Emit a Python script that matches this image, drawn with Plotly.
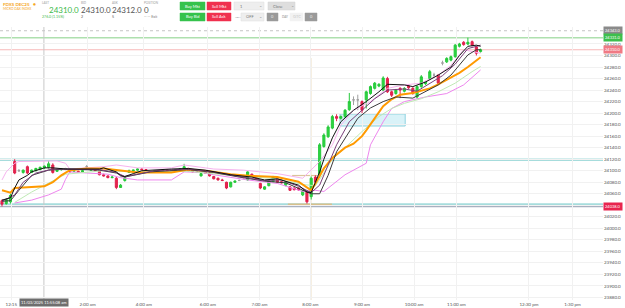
import plotly.graph_objects as go

# ---------------- data ----------------
tick_pos = [2.2, 20.2, 33.5, 48.6, 60.8, 72.8, 85.0, 97.3, 107.3, 124.4, 134.7]
tick_text = ["12:15", "2:00 am", "4:00 am", "6:00 am", "7:00 am", "8:00 am",
             "9:00 am", "10:00 am", "11:00 am", "12:30 pm", "1:30 pm"]

opens = [24048, 24043, 24046, 24116, 24100, 24097, 24107, 24097, 24100, 24102,
         24105, 24106, 24110, 24099, 24102, 24103, 24102, 24099, 24099, 24098,
         24107, 24101, 24101, 24099, 24093, 24091, 24088, 24087, 24071, 24083,
         24097, 24100, 24101, 24103, 24102, 24098, 24098, 24100, 24100, 24101,
         24099, 24099, 24102, 24104, 24104, 24101, 24098, 24091, 24098, 24096,
         24090, 24087, 24084, 24080, 24072, 24080, 24083, 24091, 24084, 24094,
         24089, 24078, 24068, 24074, 24081, 24086, 24081, 24075, 24072, 24070,
         24070, 24058, 24063, 24055, 24089, 24093, 24142, 24159, 24174, 24194,
         24191, 24194, 24206, 24223, 24223, 24220, 24223, 24234, 24243, 24247,
         24240, 24260, 24237, 24234, 24243, 24238, 24247, 24243, 24228, 24246,
         24251, 24260, 24266, 24266, 24287, 24289, 24292, 24298, 24316, 24323,
         24320, 24324, 24315, 24307]
highs = [24050, 24052, 24060, 24120, 24103, 24102, 24109, 24102, 24105, 24107,
         24109, 24117, 24113, 24103, 24104, 24105, 24103, 24102, 24100, 24101,
         24110, 24104, 24102, 24100, 24095, 24092, 24091, 24089, 24077, 24089,
         24102, 24102, 24104, 24104, 24103, 24099, 24100, 24101, 24102, 24102,
         24101, 24103, 24104, 24112, 24105, 24102, 24099, 24096, 24099, 24097,
         24091, 24088, 24086, 24081, 24081, 24083, 24085, 24092, 24099, 24095,
         24090, 24079, 24073, 24083, 24091, 24087, 24082, 24081, 24073, 24071,
         24071, 24066, 24066, 24090, 24092, 24148, 24165, 24179, 24197, 24198,
         24196, 24207, 24235, 24229, 24232, 24222, 24239, 24248, 24254, 24252,
         24264, 24263, 24239, 24242, 24245, 24245, 24249, 24245, 24248, 24266,
         24256, 24275, 24270, 24268, 24291, 24297, 24300, 24320, 24322, 24325,
         24331, 24326, 24317, 24312]
lows = [24038, 24041, 24043, 24094, 24098, 24095, 24094, 24096, 24099, 24101,
        24103, 24104, 24095, 24098, 24100, 24101, 24097, 24098, 24096, 24097,
        24105, 24100, 24099, 24092, 24090, 24087, 24087, 24068, 24070, 24081,
        24096, 24099, 24100, 24101, 24100, 24096, 24097, 24099, 24099, 24099,
        24098, 24098, 24101, 24103, 24099, 24097, 24097, 24090, 24095, 24090,
        24085, 24083, 24082, 24068, 24071, 24079, 24082, 24087, 24083, 24090,
        24085, 24068, 24067, 24073, 24080, 24079, 24078, 24073, 24065, 24066,
        24065, 24056, 24043, 24050, 24076, 24088, 24140, 24157, 24172, 24186,
        24189, 24192, 24204, 24214, 24205, 24200, 24208, 24232, 24241, 24245,
        24238, 24235, 24228, 24232, 24226, 24236, 24242, 24232, 24225, 24244,
        24249, 24258, 24262, 24249, 24283, 24287, 24290, 24296, 24314, 24317,
        24318, 24316, 24300, 24305]
closes = [24042, 24050, 24057, 24096, 24100, 24101, 24096, 24101, 24104, 24106,
          24108, 24112, 24097, 24102, 24103, 24103, 24098, 24100, 24097, 24100,
          24107, 24103, 24100, 24093, 24091, 24088, 24089, 24071, 24075, 24088,
          24100, 24101, 24103, 24102, 24101, 24097, 24099, 24100, 24101, 24100,
          24100, 24102, 24103, 24107, 24100, 24098, 24098, 24095, 24096, 24091,
          24086, 24084, 24083, 24070, 24080, 24082, 24083, 24088, 24098, 24091,
          24086, 24070, 24072, 24082, 24090, 24080, 24079, 24080, 24066, 24067,
          24067, 24065, 24046, 24087, 24080, 24145, 24162, 24176, 24194, 24191,
          24194, 24205, 24220, 24223, 24223, 24205, 24237, 24246, 24252, 24250,
          24261, 24237, 24231, 24240, 24240, 24243, 24244, 24234, 24246, 24263,
          24254, 24272, 24266, 24252, 24287, 24295, 24298, 24318, 24320, 24319,
          24323, 24318, 24304, 24310]

ema_fast_x = [0, 2, 3, 4, 6, 7, 10, 12, 15, 23, 24, 27, 28, 29, 31, 33, 40, 44, 48, 50, 54, 59, 62, 65, 70, 72, 73, 74, 75, 76, 77, 78, 80, 83, 86, 89, 91, 95, 97, 100, 103, 106, 108, 110, 112, 113]
ema_fast_y = [24049, 24053, 24070, 24084, 24092, 24098, 24105, 24105, 24103, 24103, 24105, 24098, 24091, 24090, 24095, 24100, 24103, 24104, 24101, 24098, 24093, 24089, 24084, 24086, 24075, 24063, 24062, 24080, 24098, 24120, 24140, 24157, 24185, 24205, 24220, 24237, 24250, 24249, 24246, 24254, 24266, 24280, 24300, 24316, 24318, 24316]

ema_mid_x = [0, 3, 5, 8, 12, 15, 23, 27, 29, 32, 36, 44, 50, 56, 62, 66, 70, 73, 75, 77, 79, 82, 85, 88, 91, 95, 98, 101, 104, 107, 110, 113]
ema_mid_y = [24047, 24058, 24080, 24096, 24103, 24103, 24102, 24097, 24090, 24094, 24100, 24103, 24098, 24090, 24083, 24084, 24073, 24062, 24075, 24110, 24145, 24185, 24205, 24225, 24240, 24242, 24238, 24252, 24265, 24285, 24312, 24318]

ema_slow_x = [0, 2, 4, 7, 11, 15, 23, 27, 29, 31, 35, 44, 50, 56, 62, 67, 70, 73, 75, 77, 79, 82, 84, 87, 90, 93, 97, 103, 106, 110, 112, 113]
ema_slow_y = [24047, 24048, 24066, 24092, 24101, 24103, 24101, 24096, 24089, 24092, 24098, 24102, 24097, 24089, 24082, 24079, 24070, 24060, 24060, 24092, 24133, 24168, 24191, 24209, 24220, 24228, 24226, 24249, 24266, 24301, 24310, 24310]

orange_x = [0, 2, 3, 10, 12, 14, 16, 20, 24, 29, 32, 40, 44, 49, 54, 59, 65, 70, 72, 73, 74, 75, 76, 78, 81, 83, 85, 86, 88, 90, 92, 94, 97, 101, 103, 106, 108, 110, 113]
orange_y = [24066, 24062, 24070, 24073, 24080, 24092, 24101, 24104, 24104, 24099, 24097, 24097, 24102, 24099, 24094, 24091, 24089, 24081, 24072, 24066, 24078, 24090, 24104, 24122, 24140, 24147, 24160, 24170, 24190, 24212, 24224, 24232, 24235, 24243, 24250, 24262, 24270, 24280, 24297]

green_x = [3, 7, 15, 24, 33, 44, 54, 65, 71, 74, 76, 78, 81, 85, 89, 92, 95, 99, 103, 107, 111, 113]
green_y = [24045, 24063, 24094, 24100, 24098, 24099, 24092, 24086, 24076, 24074, 24096, 24120, 24140, 24168, 24194, 24208, 24217, 24225, 24237, 24252, 24272, 24281]

band_up_x = [0, 1, 3, 4, 13, 15, 16, 20, 24, 27, 32, 40, 43, 48, 50, 57, 65, 71, 73, 75, 78, 80, 83, 87, 91, 95, 99, 103, 106, 109, 113]
band_up_y = [24084, 24098, 24113, 24116, 24117, 24113, 24103, 24105, 24107, 24110, 24105, 24105, 24110, 24105, 24103, 24101, 24095, 24087, 24101, 24116, 24145, 24179, 24205, 24220, 24243, 24249, 24252, 24266, 24283, 24310, 24304]

band_lo_x = [3, 7, 11, 14, 15, 16, 20, 25, 28, 32, 40, 43, 47, 50, 58, 65, 71, 74, 76, 81, 86, 87, 90, 92, 95, 100, 105, 109, 113]
band_lo_y = [24044, 24049, 24058, 24068, 24085, 24098, 24096, 24094, 24088, 24084, 24084, 24098, 24097, 24093, 24084, 24078, 24064, 24066, 24064, 24093, 24113, 24145, 24185, 24208, 24220, 24228, 24234, 24249, 24275]

level_grey = 24343
level_green = 24331
level_last = 24310
level_teal_hi = 24119
level_teal_lo = 24042
level_slate = 24038
zone_lo, zone_hi = 24177.6, 24198.5
zone_x0, zone_x1 = 79.8, 95.2
marker_bar = 72.9
cross_bar = 9.9
tan_a = (24091.7, 68.5, 74.6)
tan_b = (24042, 67.5, 77.9)

y_ticks = list(range(23880, 24321, 20))

# ---------------- figure ----------------
W, H = 625, 308
ML, MR, MT, MB = 0, 22, 27, 8
PW, PH = W - ML - MR, H - MT - MB
FONT = "Lato"


def px(x):
    return (x - ML) / PW


def py(y):
    return 1 - (y - MT) / PH


fig = go.Figure()

# indicator lines
fig.add_trace(go.Scatter(x=band_lo_x, y=band_lo_y, mode="lines",
                         line=dict(color="#ee86ee", width=1), hoverinfo="skip"))
fig.add_trace(go.Scatter(x=band_up_x, y=band_up_y, mode="lines",
                         line=dict(color="#f6b3ee", width=1), hoverinfo="skip"))
fig.add_trace(go.Scatter(x=green_x, y=green_y, mode="lines",
                         line=dict(color="#bfeab5", width=1), hoverinfo="skip"))
fig.add_trace(go.Scatter(x=orange_x, y=orange_y, mode="lines",
                         line=dict(color="#ff9a00", width=2), hoverinfo="skip"))
fig.add_trace(go.Scatter(x=ema_slow_x, y=ema_slow_y, mode="lines",
                         line=dict(color="#3a3a3a", width=1), hoverinfo="skip"))
fig.add_trace(go.Scatter(x=ema_mid_x, y=ema_mid_y, mode="lines",
                         line=dict(color="#7a3f7a", width=1), hoverinfo="skip"))
fig.add_trace(go.Scatter(x=ema_fast_x, y=ema_fast_y, mode="lines",
                         line=dict(color="#111111", width=1), hoverinfo="skip"))

# candles
idx = list(range(len(opens)))
reg = [i for i in idx if closes[i] != opens[i]]
doj = [i for i in idx if closes[i] == opens[i]]
fig.add_trace(go.Candlestick(
    x=reg, open=[opens[i] for i in reg], high=[highs[i] for i in reg],
    low=[lows[i] for i in reg], close=[closes[i] for i in reg],
    increasing=dict(line=dict(color="#25c93a", width=1), fillcolor="#2fd443"),
    decreasing=dict(line=dict(color="#e0204c", width=1), fillcolor="#e8254e"),
    hoverinfo="skip"))
fig.add_trace(go.Candlestick(
    x=doj, open=[opens[i] for i in doj], high=[highs[i] for i in doj],
    low=[lows[i] for i in doj], close=[closes[i] for i in doj],
    increasing=dict(line=dict(color="#a0a0a0", width=1), fillcolor="#a0a0a0"),
    decreasing=dict(line=dict(color="#a0a0a0", width=1), fillcolor="#a0a0a0"),
    hoverinfo="skip"))

shapes = []
shapes.append(dict(type="line", xref="paper", x0=0, x1=1, yref="y", y0=level_grey, y1=level_grey,
                   line=dict(color="#c4c4c4", width=1, dash="dot"), layer="below"))
shapes.append(dict(type="line", xref="paper", x0=0, x1=1, yref="y", y0=level_green, y1=level_green,
                   line=dict(color="#aee0ae", width=1.5), layer="below"))
shapes.append(dict(type="line", xref="paper", x0=0, x1=1, yref="y", y0=level_last, y1=level_last,
                   line=dict(color="#f7b9b9", width=1), layer="below"))
shapes.append(dict(type="line", xref="paper", x0=0, x1=1, yref="y", y0=level_teal_hi, y1=level_teal_hi,
                   line=dict(color="#a6dcdc", width=2.5), layer="below"))
shapes.append(dict(type="line", xref="paper", x0=0, x1=1, yref="y", y0=level_teal_lo, y1=level_teal_lo,
                   line=dict(color="#a6dcdc", width=2), layer="below"))
shapes.append(dict(type="line", xref="paper", x0=0, x1=1, yref="y", y0=level_slate, y1=level_slate,
                   line=dict(color="#a9b0c0", width=1.5), layer="below"))
shapes.append(dict(type="rect", xref="x", yref="y", x0=zone_x0, x1=zone_x1, y0=zone_lo, y1=zone_hi,
                   fillcolor="rgba(185,232,242,0.55)", line=dict(color="#8fd3df", width=1), layer="below"))
shapes.append(dict(type="line", xref="x", yref="paper", x0=marker_bar, x1=marker_bar, y0=0,
                   y1=py(58), line=dict(color="#dcc08a", width=1), layer="below"))
shapes.append(dict(type="line", xref="x", yref="y", x0=tan_a[1], x1=tan_a[2], y0=tan_a[0], y1=tan_a[0],
                   line=dict(color="#dcc59a", width=1.2), layer="below"))
shapes.append(dict(type="line", xref="x", yref="y", x0=tan_b[1], x1=tan_b[2], y0=tan_b[0], y1=tan_b[0],
                   line=dict(color="#d8c08c", width=1.5), layer="below"))
shapes.append(dict(type="line", xref="x", yref="paper", x0=cross_bar, x1=cross_bar, y0=0, y1=1,
                   line=dict(color="#c8c8c8", width=1), layer="below"))

ann = []
for val, bg in [(level_grey, "#8a8a8a"), (level_green, "#3cbf4c"), (level_last, "#f07a84"),
                (level_slate, "#e8254e")]:
    ann.append(dict(xref="paper", x=1, xanchor="left", yref="y", y=val, yanchor="middle",
                    text="%.1f" % val, showarrow=False, bgcolor=bg, borderpad=1,
                    font=dict(family=FONT, size=4, color="white")))
ann.append(dict(xref="x", x=cross_bar, xanchor="center", yref="paper", y=py(302.5), yanchor="middle",
                text="11/03/2025 11:55:08 am", showarrow=False, bgcolor="#6e6e6e", borderpad=1,
                font=dict(family=FONT, size=4, color="white")))


def label(x, y, text, size, color, bold=False):
    ann.append(dict(xref="paper", yref="paper", x=px(x), y=py(y), xanchor="left", yanchor="middle",
                    text=("<b>%s</b>" % text) if bold else text, showarrow=False,
                    font=dict(family=FONT, size=size, color=color)))


label(0.5, 4, "FDXS DEC25", 4.5, "#f5a623", bold=True)
label(30.5, 4, "●", 5, "#f5a623")
label(0.5, 9, "MICRO DAX INDEX", 3.2, "#f5a623")
label(40, 3, "LAST", 3, "#9a9a9a")
label(47, 10.5, "24310.0", 8, "#3cb94a")
label(40, 16.5, "276.0 (1.15%)", 3.6, "#3cb94a")
label(79, 3, "BID", 3, "#9a9a9a")
label(78.5, 10.5, "24310.0", 8, "#555555")
label(79, 16.5, "2", 3.6, "#555555")
label(110, 3, "ASK", 3, "#9a9a9a")
label(109.5, 10.5, "24312.0", 8, "#555555")
label(110, 16.5, "5", 3.6, "#555555")
label(142, 3, "POSITION", 3, "#9a9a9a")
label(141.5, 10.5, "0", 8, "#555555")
label(142, 16.5, "-- -- Exit", 3.6, "#777777")


def button(x0, x1, y0, y1, fill, text, tcolor="white", line=None):
    shapes.append(dict(type="rect", xref="paper", yref="paper", x0=px(x0), x1=px(x1), y0=py(y1), y1=py(y0),
                       fillcolor=fill, line=dict(color=line or fill, width=0.5)))
    if text:
        ann.append(dict(xref="paper", yref="paper", x=px((x0 + x1) / 2), y=py((y0 + y1) / 2),
                        xanchor="center", yanchor="middle", text=text, showarrow=False,
                        font=dict(family=FONT, size=4, color=tcolor)))


button(180, 205, 2, 10, "#36c24c", "Buy Mkt")
button(207, 231, 2, 10, "#f0304f", "Sell Mkt")
button(234, 264, 2, 10, "#eeeeee", "", line="#dddddd")
label(238, 6, "1", 4, "#777777")
label(257, 5.5, "⌄", 4, "#888888")
button(268, 295, 2, 10, "#dedede", "", line="#d0d0d0")
label(271, 6, "Close", 4, "#777777")
label(288.5, 5.5, "⌄", 4, "#888888")
button(180, 205, 13, 21, "#36c24c", "Buy Bid")
button(207, 231, 13, 21, "#f0304f", "Sell Ask")
label(232.5, 17, "ATM", 2.6, "#777777")
button(241, 264, 13, 21, "#eeeeee", "", line="#dddddd")
label(244, 17, "OFF", 4, "#777777")
label(257, 16.5, "⌄", 4, "#888888")
button(267, 278, 13, 21, "#9a9a9a", "0", tcolor="#eeeeee")
label(280, 17, "DAY", 3, "#888888")
button(290, 303, 13, 21, "#f2f2f2", "GTC", tcolor="#c8c8c8")
button(305, 317, 13, 21, "#9a9a9a", "0", tcolor="#eeeeee")

fig.update_layout(
    width=W, height=H, margin=dict(l=ML, r=MR, t=MT, b=MB),
    paper_bgcolor="white", plot_bgcolor="white", showlegend=False,
    boxmode="overlay", boxgap=0.3,
    shapes=shapes, annotations=ann,
    font=dict(family=FONT),
    xaxis=dict(range=[-0.47, 141.9], tickvals=tick_pos, ticktext=tick_text, showgrid=True,
               gridcolor="#f1f1f1", gridwidth=1, zeroline=False, showline=False, ticks="",
               tickfont=dict(family=FONT, size=4.5, color="#555555"), rangeslider=dict(visible=False)),
    yaxis=dict(side="right", range=[23875.6, 24349.5], tickvals=y_ticks, tickformat=".1f",
               showgrid=True, gridcolor="#f1f1f1", zeroline=False, showline=False, ticks="",
               tickfont=dict(family=FONT, size=4.5, color="#555555")),
)

fig.write_html("out.html")
